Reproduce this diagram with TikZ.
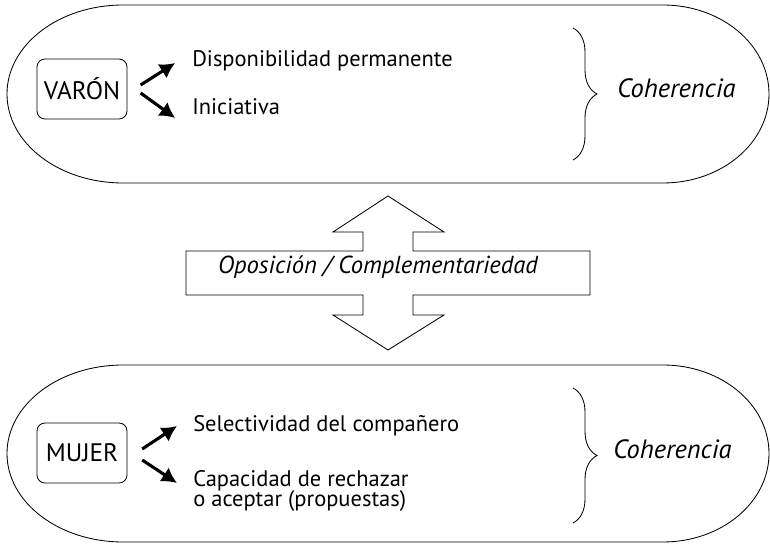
\documentclass[tikz,border=0pt]{standalone}
\usepackage{fontspec}
\setmainfont{PT Sans}
\usetikzlibrary{arrows.meta,decorations.pathreplacing}
\lineskiplimit=-\maxdimen

\begin{document}
\begin{tikzpicture}[>={Latex[length=3.8mm,width=4.2mm]},
        every node/.style={font=\fontsize{16}{14.5}\selectfont},
        sexo/.style={draw,line width=0.6pt,rounded corners=0.2cm,minimum width=2.25cm,minimum height=1.5cm,inner sep=0pt,font=\fontsize{18}{20}\selectfont},
        txt/.style={anchor=base west,inner sep=0pt,align=left},
        cursiva/.style={font=\fontsize{#1}{20}\selectfont\itshape},
        flecha/.style={->,line width=2.2pt},
        llave/.style={decorate,decoration={brace,amplitude=0.6cm},line width=0.6pt}]
        \useasboundingbox(0,0)rectangle(19.25,13.6);
        % capsulas
        \draw[line width=0.6pt](3.075,13.475)--(16.575,13.475)arc[start angle=90,end angle=-90,x radius=2.65,y radius=2.225]
            --(3.075,9.025)arc[start angle=270,end angle=90,x radius=2.9,y radius=2.225]--cycle;
        \draw[line width=0.6pt](3.075,4.475)--(16.575,4.475)arc[start angle=90,end angle=-90,x radius=2.65,y radius=2.2125]
            --(3.075,0.05)arc[start angle=270,end angle=90,x radius=2.9,y radius=2.2125]--cycle;
        % varon
        \node[sexo](varon)at(2.05,11.375){VARÓN};
        \node[txt](disp)at(4.8,11.925){Disponibilidad permanente};
        \node[txt](inic)at(4.8,10.725){Iniciativa};
        \draw[flecha]([shift={(0.33,0.1)}]varon.east)--([shift={(-0.42,0.1)}]disp.base west);
        \draw[flecha]([shift={(0.33,-0.1)}]varon.east)--([shift={(-0.42,-0.075)}]inic.base west);
        \draw[llave](14.325,12.9)--(14.325,9.6);
        \node[txt,cursiva=18.8](coh1)at(15.425,11.15){Coherencia};
        % flecha doble
        \draw[line width=0.6pt](9.7,8.7)--(11.1,7.8)--(10.325,7.8)--(10.325,7.325)--(14.75,7.325)--(14.75,6.225)
            --(10.325,6.225)--(10.325,5.725)--(11.1,5.725)--(9.7,4.85)--(8.325,5.725)--(9.075,5.725)--(9.075,6.225)
            --(4.65,6.225)--(4.65,7.325)--(9.075,7.325)--(9.075,7.8)--(8.325,7.8)--cycle;
        \node[cursiva=17.5,anchor=base](opos)at(9.45,6.75){Oposición / Complementariedad};
        % mujer
        \node[sexo](mujer)at(2.05,2.275){MUJER};
        \node[txt](sel)at(4.825,2.8){Selectividad del compañero};
        \node[txt](cap)at(4.825,0.925){Capacidad de rechazar\\o aceptar (propuestas)};
        \draw[flecha]([shift={(0.37,0.1)}]mujer.east)--([shift={(-0.4,0.15)}]sel.base west);
        \draw[flecha]([shift={(0.37,-0.175)}]mujer.east)--([shift={(-0.4,0.6)}]cap.base west);
        \draw[llave](14.325,3.9)--(14.325,0.525);
        \node[txt,cursiva=18.8](coh2)at(15.325,2.125){Coherencia};
\end{tikzpicture}
\end{document}
